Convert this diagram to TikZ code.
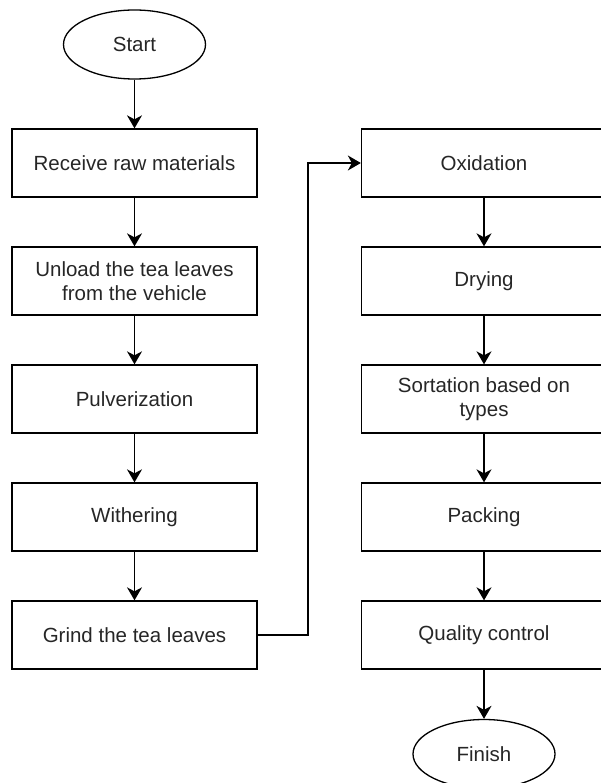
\documentclass[tikz,border=0pt]{standalone}
\usepackage{fontspec}
\setmainfont{Liberation Sans}
\usepackage{tikz}
\usetikzlibrary{shapes,arrows.meta}

\tikzset{
  stepbox/.style={draw, rectangle, line width=1.3pt, minimum width=245pt,
    minimum height=68pt, inner sep=0pt, align=center, text=black!85},
  terminal/.style={draw, ellipse, line width=1.3pt, minimum width=142pt,
    minimum height=69pt, inner sep=0pt, text=black!85},
  flow/.style={line width=1.3pt, -{Stealth[length=13pt, width=15pt, inset=4pt]}}
}

\begin{document}
\begin{tikzpicture}[x=1pt, y=-1pt, font=\fontsize{20.5}{23.5}\selectfont]
  \useasboundingbox (0,0) rectangle (601,783);
  % Sizes
  \pgfmathsetmacro{\leftx}{134.5}
  \pgfmathsetmacro{\rightx}{484}
  \pgfmathsetmacro{\rowgap}{118}
  % nodes
  \node[terminal] (start) at (\leftx, 44.5) {Start};
  \node[stepbox] (receive) at (\leftx, 163) {Receive raw materials};
  \node[stepbox] (unload) at (\leftx, 163+\rowgap) {Unload the tea leaves\\from the vehicle};
  \node[stepbox] (pulver) at (\leftx, 163+2*\rowgap) {Pulverization};
  \node[stepbox] (wither) at (\leftx, 163+3*\rowgap) {Withering};
  \node[stepbox] (grind) at (\leftx, 163+4*\rowgap) {Grind the tea leaves};

  \node[stepbox] (oxid) at (\rightx, 163) {Oxidation};
  \node[stepbox] (dry) at (\rightx, 163+\rowgap) {Drying};
  \node[stepbox] (sort) at (\rightx, 163+2*\rowgap) {Sortation based on\\types};
  \node[stepbox] (pack) at (\rightx, 163+3*\rowgap) {Packing};
  \node[stepbox] (quality) at (\rightx, 163+4*\rowgap) {Quality control};
  \node[terminal] (finish) at (\rightx, 754) {Finish};

  \coordinate (turn) at (308, 163+4*\rowgap);

  % draw diagram
  \draw[flow] (start) -- (receive);
  \draw[flow] (receive) -- (unload);
  \draw[flow] (unload) -- (pulver);
  \draw[flow] (pulver) -- (wither);
  \draw[flow] (wither) -- (grind);
  \draw[flow] (grind.east) -- (turn) |- (oxid.west);
  \draw[flow] (oxid) -- (dry);
  \draw[flow] (dry) -- (sort);
  \draw[flow] (sort) -- (pack);
  \draw[flow] (pack) -- (quality);
  \draw[flow] (quality) -- (finish);
\end{tikzpicture}
\end{document}
